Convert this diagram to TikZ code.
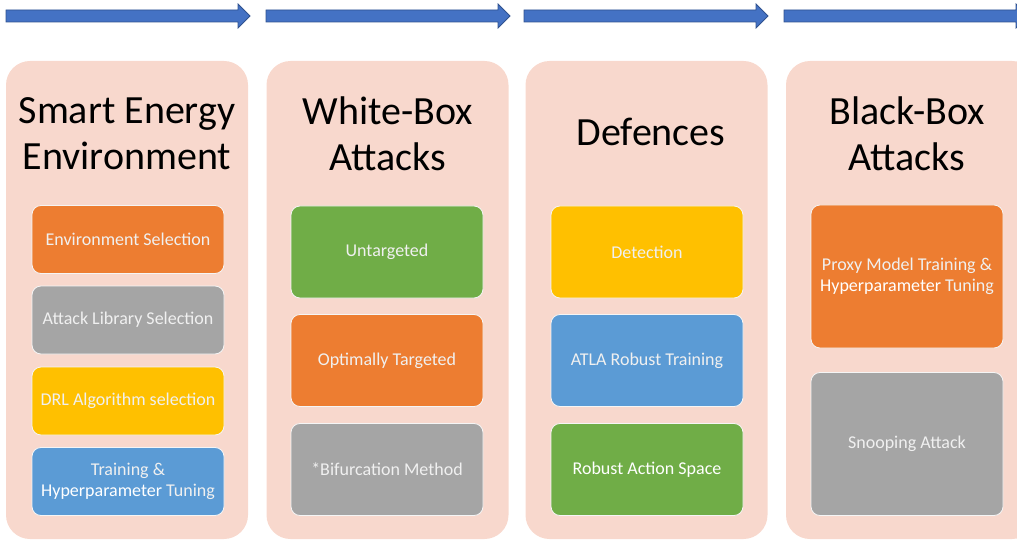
\documentclass[tikz,border=0pt]{standalone}
\usepackage{fontspec}
\setmainfont{Carlito}
\definecolor{arrowblue}{HTML}{4472C4}
\definecolor{arrowedge}{HTML}{2F528F}
\definecolor{panel}{HTML}{F8D8CD}
\definecolor{cOrange}{HTML}{ED7D31}
\definecolor{cGray}{HTML}{A5A5A5}
\definecolor{cYellow}{HTML}{FFC000}
\definecolor{cBlue}{HTML}{5B9BD5}
\definecolor{cGreen}{HTML}{70AD47}
\definecolor{boxtext}{HTML}{F0F0F0}
\begin{document}
\begin{tikzpicture}[x=1pt,y=-1pt,
  flow/.style={fill=arrowblue,draw=arrowedge,line width=0.8pt},
  panelbox/.style={fill=panel,draw=none,rounded corners=24pt,minimum width=242pt,minimum height=478pt,inner sep=0pt},
  heading/.style={align=center,text=black,font=\fontsize{40}{46}\selectfont},
  stepbox/.style={draw=white!92!gray,line width=0.8pt,rounded corners=9pt,minimum width=192pt,inner sep=0pt,align=center,text=boxtext,font=\fontsize{18}{20.5}\selectfont},
  shortbox/.style={stepbox,minimum height=68pt},
  tallbox/.style={stepbox,minimum height=92pt},
  bigbox/.style={stepbox,minimum height=143pt}
]
\useasboundingbox (0,0) rectangle (1017,540);
\clip (0,0) rectangle (1017,540);

% timeline arrows along the top
\foreach \a in {6,266,524,784}{
  \draw[flow] (\a,10) -- (\a+232,10) -- (\a+232,4) -- (\a+244,16) -- (\a+232,28) -- (\a+232,22) -- (\a,22) -- cycle;
}

% stage panels
\node[panelbox] (p1) at (127,300) {};
\node[panelbox] (p2) at (387.5,300) {};
\node[panelbox] (p3) at (646.5,300) {};
\node[panelbox,minimum width=250pt] (p4) at (911,300) {};

% stage headings
\node[heading] (h1) at (127,134) {Smart Energy\\Environment};
\node[heading] (h2) at (388,134) {White-Box\\Attacks};
\node[heading] (h3) at (651,132) {Defences};
\node[heading] (h4) at (907,134) {Black-Box\\Attacks};

% stage 1: environment set-up
\node[shortbox,fill=cOrange] (e1) at (128,239.5) {Environment Selection};
\node[shortbox,fill=cGray] (e2) at (128,320) {Attack Library Selection};
\node[shortbox,fill=cYellow] (e3) at (128,401) {DRL Algorithm selection};
\node[shortbox,fill=cBlue] (e4) at (128,481.5) {Training \&\\\textcolor{white}{Hyperparameter} Tuning};

% stage 2: white-box attacks
\node[tallbox,fill=cGreen] (w1) at (387,252) {Untargeted};
\node[tallbox,fill=cOrange] (w2) at (387,360.5) {Optimally Targeted};
\node[tallbox,fill=cGray] (w3) at (387,469.5) {*Bifurcation Method};

% stage 3: defences
\node[tallbox,fill=cYellow] (d1) at (647,252) {Detection};
\node[tallbox,fill=cBlue] (d2) at (647,360.5) {ATLA Robust Training};
\node[tallbox,fill=cGreen,text=white] (d3) at (647,469.5) {Robust Action Space};

% stage 4: black-box attacks
\node[bigbox,fill=cOrange] (b1) at (907,276.5) {Proxy Model Training \&\\\textcolor{white}{Hyperparameter} Tuning};
\node[bigbox,fill=cGray] (b2) at (907,444) {Snooping Attack};
\end{tikzpicture}
\end{document}
